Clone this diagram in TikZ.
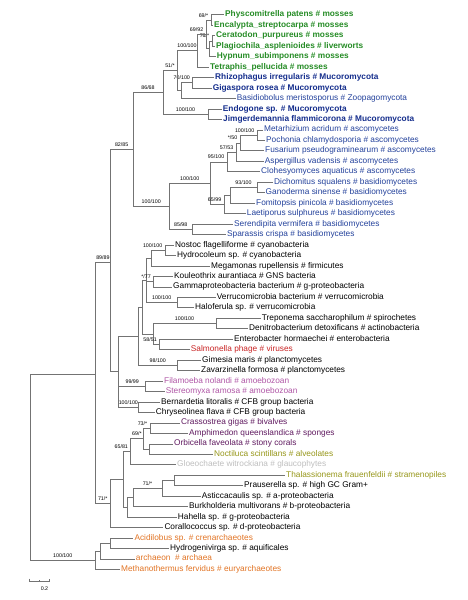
\documentclass[tikz,border=0pt]{standalone}
\usepackage{fontspec}
\setmainfont{Liberation Sans}
\usetikzlibrary{positioning,calc}
\definecolor{moss}{RGB}{38,140,38}
\definecolor{muco}{RGB}{20,45,140}
\definecolor{fungus}{RGB}{35,65,155}
\definecolor{virus}{RGB}{200,35,35}
\definecolor{amoeba}{RGB}{175,85,165}
\definecolor{animal}{RGB}{95,25,95}
\definecolor{algae}{RGB}{150,150,25}
\definecolor{glauco}{RGB}{190,190,190}
\definecolor{archae}{RGB}{225,115,35}
\definecolor{branch}{RGB}{115,115,115}

\begin{document}
\begin{tikzpicture}[x=1pt,y=-1pt,
 br/.style={draw=branch,line width=0.6pt},
 taxon/.style={anchor=west,inner xsep=1pt,inner ysep=0pt,text height=6pt,text depth=1.7pt,font=\fontsize{8.3}{9}\selectfont},
 bold/.style={font=\fontsize{8.3}{9}\selectfont\bfseries},
 sup/.style={above=2.6pt,inner sep=0pt,font=\fontsize{5.3}{6}\selectfont,pos=.75},
 supr/.style={sup,pos=1,anchor=south east,xshift=-2.5pt}]
 \useasboundingbox (0,0) rectangle (467,600);

 \node[taxon,bold,text=moss] (physco) at (224,14.7) {Physcomitrella patens \# mosses};
 \node[taxon,bold,text=moss] (encal) at (213,25.2) {Encalypta\_streptocarpa \# mosses};
 \node[taxon,bold,text=moss] (cerat) at (215,35.6) {Ceratodon\_purpureus \# mosses};
 \node[taxon,bold,text=moss] (plagio) at (215,46.1) {Plagiochila\_asplenioides \# liverworts};
 \node[taxon,bold,text=moss] (hypnum) at (215.7,56.6) {Hypnum\_subimponens \# mosses};
 \node[taxon,bold,text=moss] (tetra) at (209,67) {Tetraphis\_pellucida \# mosses};
 \node[taxon,bold,text=muco] (rhizo) at (214,77.5) {Rhizophagus irregularis \# Mucoromycota};
 \node[taxon,bold,text=muco] (gigas) at (211.7,88) {Gigaspora rosea \# Mucoromycota};
 \node[taxon,text=fungus] (basidio) at (235.7,98.4) {Basidiobolus meristosporus \# Zoopagomycota};
 \node[taxon,bold,text=muco] (endog) at (221.7,108.9) {Endogone sp. \# Mucoromycota};
 \node[taxon,bold,text=muco] (jimger) at (222,119.4) {Jimgerdemannia flammicorona \# Mucoromycota};
 \node[taxon,text=fungus] (metar) at (263,129.8) {Metarhizium acridum \# ascomycetes};
 \node[taxon,text=fungus] (pocho) at (265,140.3) {Pochonia chlamydosporia \# ascomycetes};
 \node[taxon,text=fungus] (fusar) at (264,150.7) {Fusarium pseudograminearum \# ascomycetes};
 \node[taxon,text=fungus] (asperg) at (263.7,161.2) {Aspergillus vadensis \# ascomycetes};
 \node[taxon,text=fungus] (clohe) at (260,171.7) {Clohesyomyces aquaticus \# ascomycetes};
 \node[taxon,text=fungus] (dicho) at (273,182.1) {Dichomitus squalens \# basidiomycetes};
 \node[taxon,text=fungus] (ganod) at (264.5,192.6) {Ganoderma sinense \# basidiomycetes};
 \node[taxon,text=fungus] (fomit) at (255,203.1) {Fomitopsis pinicola \# basidiomycetes};
 \node[taxon,text=fungus] (laeti) at (245.7,213.5) {Laetiporus sulphureus \# basidiomycetes};
 \node[taxon,text=fungus] (seren) at (233,224) {Serendipita vermifera \# basidiomycetes};
 \node[taxon,text=fungus] (spara) at (226,234.5) {Sparassis crispa \# basidiomycetes};
 \node[taxon] (nostoc) at (174,244.9) {Nostoc flagelliforme \# cyanobacteria};
 \node[taxon] (hydroc) at (176,255.4) {Hydrocoleum sp. \# cyanobacteria};
 \node[taxon] (megam) at (210,265.9) {Megamonas rupellensis \# firmicutes};
 \node[taxon] (kouleo) at (173,276.3) {Kouleothrix aurantiaca \# GNS bacteria};
 \node[taxon] (gammab) at (172,286.8) {Gammaproteobacteria bacterium \# g-proteobacteria};
 \node[taxon] (verru) at (215.7,297.3) {Verrucomicrobia bacterium \# verrucomicrobia};
 \node[taxon] (halof) at (194,307.7) {Haloferula sp. \# verrucomicrobia};
 \node[taxon] (trepo) at (260.7,318.2) {Treponema saccharophilum \# spirochetes};
 \node[taxon] (denitro) at (248,328.6) {Denitrobacterium detoxificans \# actinobacteria};
 \node[taxon] (entero) at (233,339.1) {Enterobacter hormaechei \# enterobacteria};
 \node[taxon,text=virus] (salmo) at (189.7,349.6) {Salmonella phage \# viruses};
 \node[taxon] (gimes) at (201,360) {Gimesia maris \# planctomycetes};
 \node[taxon] (zavar) at (200,370.5) {Zavarzinella formosa \# planctomycetes};
 \node[taxon,text=amoeba] (filam) at (163,381) {Filamoeba nolandi \# amoebozoan};
 \node[taxon,text=amoeba] (stereo) at (164.7,391.4) {Stereomyxa ramosa \# amoebozoan};
 \node[taxon] (bernar) at (160,401.9) {Bernardetia litoralis \# CFB group bacteria};
 \node[taxon] (chryse) at (154.7,412.4) {Chryseolinea flava \# CFB group bacteria};
 \node[taxon,text=animal] (crasso) at (180,422.8) {Crassostrea gigas \# bivalves};
 \node[taxon,text=animal] (amphim) at (188,433.3) {Amphimedon queenslandica \# sponges};
 \node[taxon,text=animal] (orbic) at (173,443.8) {Orbicella faveolata \# stony corals};
 \node[taxon,text=algae] (noctil) at (213,454.2) {Noctiluca scintillans \# alveolates};
 \node[taxon,text=glauco] (gloeo) at (176,464.7) {Gloeochaete witrockiana \# glaucophytes};
 \node[taxon,text=algae] (thalas) at (285,475.1) {Thalassionema frauenfeldii \# stramenopiles};
 \node[taxon] (praus) at (243,485.6) {Prauserella sp. \# high GC Gram+};
 \node[taxon] (astic) at (200.7,496.1) {Asticcacaulis sp. \# a-proteobacteria};
 \node[taxon] (burkh) at (188,506.5) {Burkholderia multivorans \# b-proteobacteria};
 \node[taxon] (hahel) at (176.7,517) {Hahella sp. \# g-proteobacteria};
 \node[taxon] (coral) at (163.3,527.5) {Corallococcus sp. \# d-proteobacteria};
 \node[taxon,text=archae] (acidil) at (133.3,537.9) {Acidilobus sp. \# crenarchaeotes};
 \node[taxon] (hydrog) at (169,548.4) {Hydrogenivirga sp. \# aquificales};
 \node[taxon,text=archae] (archaeon) at (134.7,558.8) {archaeon\ \ \# archaea};
 \node[taxon,text=archae] (methano) at (120,569.3) {Methanothermus fervidus \# euryarchaeotes};

 \coordinate (pe) at (211,19.95);
 \coordinate (cp) at (212,40.85);
 \coordinate (cph) at (209,48.7);
 \coordinate (mossA) at (206,34.3);
 \coordinate (mosses) at (197,50.65);
 \coordinate (rg) at (192.7,82.75);
 \coordinate (rgb) at (181,90.6);
 \coordinate (landA) at (177,70.6);
 \coordinate (ej) at (208,114.15);
 \coordinate (land) at (163,92.4);
 \coordinate (mp) at (257,135.05);
 \coordinate (mpf) at (240,142.9);
 \coordinate (mpfa) at (236,152.05);
 \coordinate (asco) at (227,161.9);
 \coordinate (dg) at (257,187.35);
 \coordinate (dgf) at (230,195.2);
 \coordinate (basid) at (224,204.35);
 \coordinate (dikarya) at (210,183.1);
 \coordinate (ss) at (192,229.25);
 \coordinate (fungi) at (169.5,206.2);
 \coordinate (euk) at (133,149.3);
 \coordinate (nh) at (165,250.15);
 \coordinate (nhm) at (151.3,258);
 \coordinate (kg) at (153.5,281.55);
 \coordinate (vh) at (177,302.5);
 \coordinate (cyano) at (146.3,280.25);
 \coordinate (td) at (216,323.4);
 \coordinate (es) at (159.5,344.35);
 \coordinate (tdes) at (153,333.9);
 \coordinate (gz) at (177,365.25);
 \coordinate (bactA) at (142,307.1);
 \coordinate (bact) at (138.5,336.2);
 \coordinate (fs) at (145.7,386.2);
 \coordinate (bc) at (138,407.15);
 \coordinate (mixed) at (118.7,371.7);
 \coordinate (upper) at (110.3,262);
 \coordinate (ca) at (150,428.05);
 \coordinate (on) at (149,449);
 \coordinate (cnid) at (143,438.5);
 \coordinate (glau) at (130.7,451.6);
 \coordinate (tp) at (174,480.35);
 \coordinate (tpa) at (162,488.2);
 \coordinate (tpab) at (133,497.35);
 \coordinate (tpabh) at (127,507.2);
 \coordinate (lowA) at (123,479.4);
 \coordinate (lower) at (110,503.45);
 \coordinate (main) at (95.5,374.5);
 \coordinate (ah) at (110,543.15);
 \coordinate (aha) at (100,550.95);
 \coordinate (arch) at (95.5,560.1);
 \coordinate (root) at (30,467);

 \draw[br] (pe) |- (physco.west);
 \draw[br] (pe) |- (encal.west);
 \draw[br] (cp) |- (cerat.west);
 \draw[br] (cp) |- (plagio.west);
 \draw[br] (cph) |- node[supr] {76/*} (cp);
 \draw[br] (cph) |- (hypnum.west);
 \draw[br] (mossA) |- node[supr] {69/*} (pe);
 \draw[br] (mossA) |- (cph);
 \draw[br] (mosses) |- node[supr] {69/92} (mossA);
 \draw[br] (mosses) |- (tetra.west);
 \draw[br] (rg) |- (rhizo.west);
 \draw[br] (rg) |- (gigas.west);
 \draw[br] (rgb) |- node[supr] {70/100} (rg);
 \draw[br] (rgb) |- (basidio.west);
 \draw[br] (landA) |- node[sup] {100/100} (mosses);
 \draw[br] (landA) |- (rgb);
 \draw[br] (ej) |- (endog.west);
 \draw[br] (ej) |- (jimger.west);
 \draw[br] (land) |- node[sup] {51/*} (landA);
 \draw[br] (land) |- node[sup] {100/100} (ej);
 \draw[br] (mp) |- (metar.west);
 \draw[br] (mp) |- (pocho.west);
 \draw[br] (mpf) |- node[supr] {100/100} (mp);
 \draw[br] (mpf) |- (fusar.west);
 \draw[br] (mpfa) |- node[supr] {*/50} (mpf);
 \draw[br] (mpfa) |- (asperg.west);
 \draw[br] (asco) |- node[supr] {57/53} (mpfa);
 \draw[br] (asco) |- (clohe.west);
 \draw[br] (dg) |- (dicho.west);
 \draw[br] (dg) |- (ganod.west);
 \draw[br] (dgf) |- node[sup] {93/100} (dg);
 \draw[br] (dgf) |- (fomit.west);
 \draw[br] (basid) |- (dgf);
 \draw[br] (basid) |- (laeti.west);
 \draw[br] (dikarya) |- node[supr] {95/100} (asco);
 \draw[br] (dikarya) |- node[supr] {65/99} (basid);
 \draw[br] (ss) |- (seren.west);
 \draw[br] (ss) |- (spara.west);
 \draw[br] (fungi) |- node[sup] {100/100} (dikarya);
 \draw[br] (fungi) |- node[sup] {85/98} (ss);
 \draw[br] (euk) |- node[sup] {86/68} (land);
 \draw[br] (euk) |- node[sup] {100/100} (fungi);

 \draw[br] (nh) |- (nostoc.west);
 \draw[br] (nh) |- (hydroc.west);
 \draw[br] (nhm) |- node[supr] {100/100} (nh);
 \draw[br] (nhm) |- (megam.west);
 \draw[br] (kg) |- (kouleo.west);
 \draw[br] (kg) |- (gammab.west);
 \draw[br] (vh) |- (verru.west);
 \draw[br] (vh) |- (halof.west);
 \draw[br] (cyano) |- (nhm);
 \draw[br] (cyano) |- node[supr] {*/77} (kg);
 \draw[br] (cyano) |- node[sup] {100/100} (vh);
 \draw[br] (td) |- (trepo.west);
 \draw[br] (td) |- (denitro.west);
 \draw[br] (es) |- (entero.west);
 \draw[br] (es) |- (salmo.west);
 \draw[br] (tdes) |- node[sup] {100/100} (td);
 \draw[br] (tdes) |- node[supr] {58/51} (es);
 \draw[br] (gz) |- (gimes.west);
 \draw[br] (gz) |- (zavar.west);
 \draw[br] (bactA) |- (cyano);
 \draw[br] (bactA) |- (tdes);
 \draw[br] (bact) |- (bactA);
 \draw[br] (bact) |- node[sup] {98/100} (gz);
 \draw[br] (fs) |- (filam.west);
 \draw[br] (fs) |- (stereo.west);
 \draw[br] (bc) |- (bernar.west);
 \draw[br] (bc) |- (chryse.west);
 \draw[br] (mixed) |- (bact);
 \draw[br] (mixed) |- node[sup] {99/99} (fs);
 \draw[br] (mixed) |- node[sup] {100/100} (bc);
 \draw[br] (upper) |- node[sup] {82/85} (euk);
 \draw[br] (upper) |- (mixed);

 \draw[br] (ca) |- (crasso.west);
 \draw[br] (ca) |- (amphim.west);
 \draw[br] (on) |- (orbic.west);
 \draw[br] (on) |- (noctil.west);
 \draw[br] (cnid) |- node[supr] {73/*} (ca);
 \draw[br] (cnid) |- (on);
 \draw[br] (glau) |- node[sup] {69/*} (cnid);
 \draw[br] (glau) |- (gloeo.west);
 \draw[br] (tp) |- (thalas.west);
 \draw[br] (tp) |- (praus.west);
 \draw[br] (tpa) |- (tp);
 \draw[br] (tpa) |- (astic.west);
 \draw[br] (tpab) |- node[sup] {71/*} (tpa);
 \draw[br] (tpab) |- (burkh.west);
 \draw[br] (tpabh) |- (tpab);
 \draw[br] (tpabh) |- (hahel.west);
 \draw[br] (lowA) |- node[supr] {65/81} (glau);
 \draw[br] (lowA) |- (tpabh);
 \draw[br] (lower) |- (lowA);
 \draw[br] (lower) |- (coral.west);
 \draw[br] (main) |- node[sup] {89/89} (upper);
 \draw[br] (main) |- node[sup] {71/*} (lower);

 \draw[br] (ah) |- (acidil.west);
 \draw[br] (ah) |- (hydrog.west);
 \draw[br] (aha) |- (ah);
 \draw[br] (aha) |- (archaeon.west);
 \draw[br] (arch) |- (aha);
 \draw[br] (arch) |- (methano.west);
 \draw[br] (root) |- (main);
 \draw[br] (root) |- node[sup] {100/100} (arch);

 \coordinate (sb0) at (29.3,581.7);
 \coordinate (sb1) at (49.3,581.7);
 \draw[br] ([yshift=3pt]sb0) -- (sb0) -- (sb1) -- ([yshift=3pt]sb1);
 \draw[br] ($(sb0)!.5!(sb1)$) -- ++(0,-2);
 \node[font=\fontsize{5.3}{6}\selectfont,inner sep=0pt] (sbtext) at (44.5,589) {0.2};
\end{tikzpicture}
\end{document}
